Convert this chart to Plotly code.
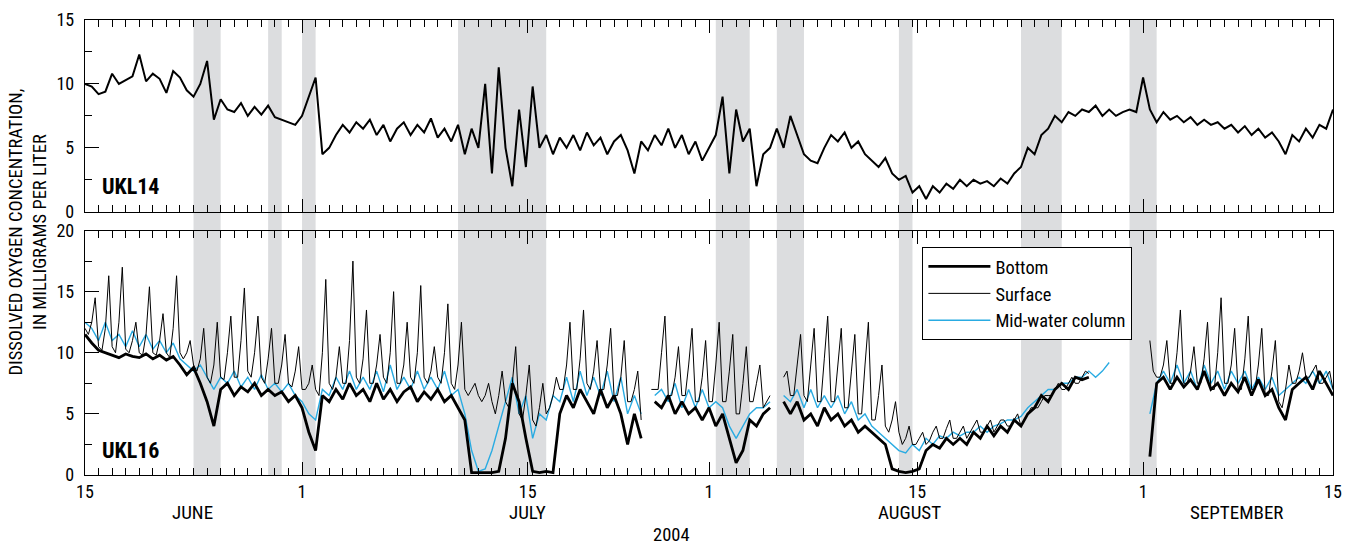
import plotly.graph_objects as go

# ---------------- data (days since 15 June 2004) ----------------
SAMPLE_STEP_DAYS = 0.5      # UKL14, UKL16 bottom and mid-water column
SURFACE_STEP_DAYS = 0.25    # UKL16 surface (diurnal peaks)

ukl14 = [
    10, 9.8, 9.2, 9.4, 10.8, 10.0, 10.3, 10.6, 12.3, 10.2,
    10.8, 10.4, 9.3, 11.0, 10.5, 9.5, 9.0, 10.0, 11.8, 7.2,
    8.8, 8.0, 7.8, 8.5, 7.5, 8.2, 7.6, 8.3, 7.4, 7.2,
    7.0, 6.8, 7.5, 9.0, 10.5, 4.5, 5.0, 6.0, 6.8, 6.2,
    7.0, 6.5, 7.2, 6.0, 6.8, 5.5, 6.5, 7.0, 6.0, 6.8,
    6.2, 7.3, 5.8, 6.5, 5.5, 6.8, 4.5, 6.5, 5.0, 10.0,
    3.0, 11.3, 5.0, 2.0, 8.0, 3.5, 9.8, 5.0, 6.0, 4.5,
    5.8, 5.0, 6.0, 4.8, 6.2, 5.2, 5.8, 4.5, 5.5, 6.0,
    4.8, 3.0, 5.5, 4.8, 6.0, 5.2, 6.5, 5.0, 6.0, 4.5,
    5.5, 4.0, 5.0, 6.0, 9.0, 3.0, 8.0, 5.5, 6.5, 2.0,
    4.5, 5.0, 6.5, 5.0, 7.5, 6.0, 4.5, 4.0, 3.8, 5.0,
    6.0, 5.5, 6.2, 5.0, 5.5, 4.5, 4.0, 3.5, 4.2, 3.0,
    2.5, 2.8, 1.5, 2.0, 1.0, 2.0, 1.5, 2.2, 1.8, 2.5,
    2.0, 2.5, 2.2, 2.4, 2.0, 2.6, 2.2, 3.0, 3.5, 5.0,
    4.5, 6.0, 6.5, 7.5, 7.0, 7.8, 7.5, 8.0, 7.8, 8.3,
    7.5, 8.0, 7.5, 7.8, 8.0, 7.8, 10.5, 8.0, 7.0, 7.8,
    7.2, 7.5, 7.0, 7.4, 6.8, 7.2, 6.8, 7.0, 6.5, 6.8,
    6.2, 6.7, 6.0, 6.5, 5.8, 6.2, 5.5, 4.5, 6.0, 5.5,
    6.5, 5.8, 6.8, 6.5, 8.0,
]

ukl16_bottom = [
    11.5, 10.8, 10.2, 10.0, 9.8, 9.6, 9.9, 9.7, 9.6, 9.9,
    9.5, 9.8, 9.4, 9.7, 9.0, 8.2, 8.8, 7.5, 6.0, 4.0,
    7.0, 7.5, 6.5, 7.2, 6.8, 7.5, 6.5, 7.0, 6.5, 6.8,
    6.0, 6.5, 5.5, 3.5, 2.0, 6.5, 6.0, 7.0, 6.2, 7.5,
    6.5, 7.0, 6.0, 7.5, 6.2, 7.0, 6.0, 6.8, 7.2, 6.0,
    6.8, 6.2, 7.0, 6.0, 6.5, 5.5, 4.5, 0.2, 0.2, 0.2,
    0.2, 0.3, 3.0, 7.5, 6.0, 3.0, 0.3, 0.2, 0.3, 0.2,
    5.0, 6.5, 5.5, 7.0, 6.0, 5.0, 7.0, 5.5, 6.5, 5.0,
    2.5, 5.0, 3.0, None, 6.0, 5.5, 6.5, 5.0, 6.0, 5.0,
    5.5, 4.5, 5.5, 4.0, 5.0, 3.0, 1.0, 2.0, 4.5, 4.0,
    5.0, 5.5, None, 6.0, 5.0, 6.0, 4.5, 5.0, 4.0, 5.5,
    4.5, 5.0, 4.0, 4.5, 3.5, 4.0, 3.5, 3.0, 2.5, 0.5,
    0.3, 0.2, 0.3, 0.5, 2.0, 2.5, 2.2, 3.0, 2.5, 3.0,
    2.5, 3.5, 3.0, 4.0, 3.2, 4.0, 3.5, 4.5, 4.0, 5.0,
    5.5, 6.5, 6.0, 7.0, 7.5, 7.0, 8.0, 7.8, 8.0, None,
    None, None, None, None, None, None, None, 1.5, 7.5, 8.0,
    7.0, 8.0, 7.2, 7.8, 7.0, 8.5, 7.0, 7.5, 6.5, 7.5,
    6.8, 8.0, 6.5, 7.8, 6.5, 7.0, 5.5, 4.5, 7.0, 7.5,
    8.0, 7.0, 8.5, 7.5, 6.5,
]

ukl16_surface = [
    12.0, 11.5, 12.5, 14.5, 10.5, 10.2, 12.0, 16.3,
    10.5, 10.0, 12.5, 17.0, 10.3, 10.0, 11.0, 12.5,
    10.0, 9.8, 11.5, 15.4, 10.0, 9.8, 11.0, 13.2,
    10.0, 9.6, 12.0, 16.3, 10.0, 9.5, 10.0, 11.0,
    9.0, 8.5, 9.5, 12.0, 8.0, 7.5, 9.0, 12.5,
    8.0, 7.8, 10.0, 13.0, 8.0, 8.0, 11.0, 15.3,
    8.5, 8.0, 10.0, 13.0, 8.0, 7.5, 9.5, 12.0,
    7.5, 7.5, 9.0, 11.5, 7.5, 7.2, 8.5, 10.5,
    7.0, 7.0, 7.5, 9.0, 7.0, 6.5, 10.0, 16.0,
    7.5, 7.0, 8.0, 10.5, 7.5, 7.5, 11.0, 17.5,
    8.0, 7.5, 9.5, 13.5, 7.5, 7.5, 9.0, 11.5,
    8.0, 7.5, 10.0, 15.0, 7.5, 7.5, 9.0, 12.5,
    8.0, 7.5, 10.0, 15.5, 8.0, 7.5, 8.5, 10.5,
    8.0, 7.5, 10.0, 14.0, 7.5, 7.0, 9.0, 12.5,
    7.0, 6.5, 7.0, 7.5, 6.5, 6.0, 6.5, 7.5,
    6.0, 5.0, 6.5, 8.5, 6.0, 5.5, 7.5, 10.5,
    5.0, 4.5, 6.5, 9.0, 4.5, 4.0, 5.5, 7.5,
    5.0, 5.5, 6.5, 8.0, 7.0, 7.0, 9.0, 12.5,
    7.0, 7.0, 9.5, 13.5, 7.5, 7.0, 8.5, 11.0,
    7.0, 7.0, 9.0, 12.0, 6.5, 6.5, 8.0, 11.0,
    6.0, 6.0, 7.0, 8.5, 4.5, None, None, 7.0,
    7.0, 7.0, 10.0, 13.0, 6.5, 6.5, 8.0, 10.5,
    6.5, 6.5, 9.0, 12.0, 6.0, 6.0, 8.0, 11.0,
    6.0, 6.0, 9.0, 12.5, 6.0, 6.0, 8.5, 11.5,
    5.0, 5.0, 7.5, 10.5, 6.0, 6.0, 7.5, 9.0,
    5.5, 6.0, 6.5, None, None, None, 8.0, 8.5,
    6.5, 6.5, 9.0, 11.5, 6.5, 6.0, 9.0, 12.0,
    6.0, 6.0, 9.5, 13.0, 6.0, 6.0, 9.0, 12.0,
    5.5, 5.5, 8.5, 11.5, 5.0, 5.0, 9.0, 12.5,
    4.5, 4.5, 6.5, 9.0, 4.0, 3.5, 4.5, 6.0,
    3.5, 2.5, 3.0, 4.0, 2.5, 2.5, 3.0, 3.5,
    2.5, 2.8, 3.5, 4.0, 3.0, 3.0, 3.8, 4.5,
    3.0, 3.0, 3.5, 4.0, 3.0, 3.5, 4.0, 4.5,
    3.5, 3.5, 4.0, 4.5, 3.5, 4.0, 4.5, 4.5,
    4.0, 4.0, 4.5, 5.0, 4.0, 4.5, 5.0, 5.5,
    5.5, 5.5, 6.0, 6.5, 6.5, 6.5, 7.0, 7.5,
    7.0, 7.0, 7.5, 8.0, 7.5, 7.5, 8.0, 8.5,
    8.3, None, None, None, None, None, None, None,
    None, None, None, None, None, None, None, None,
    None, None, 11.0, 8.5, 8.0, 8.0, 9.0, 11.0,
    7.5, 7.5, 10.0, 13.5, 7.5, 7.5, 8.5, 10.5,
    7.5, 7.5, 9.5, 12.5, 7.0, 7.0, 10.0, 14.5,
    7.5, 7.5, 9.0, 12.0, 7.0, 7.0, 9.5, 13.0,
    7.0, 7.0, 9.0, 12.0, 6.5, 6.5, 8.5, 11.0,
    6.0, 5.5, 7.0, 9.0, 7.5, 7.5, 8.5, 10.0,
    8.0, 8.0, 8.5, 9.0, 7.5, 7.5, 8.0, 8.5,
    7.0,
]

ukl16_mid = [
    12.5, 12.0, 11.0, 12.5, 11.0, 11.5, 10.5, 11.8, 10.5, 11.5,
    10.3, 11.0, 10.0, 10.8, 9.5, 9.0, 8.5, 9.0, 8.0, 7.0,
    8.0, 7.5, 8.5, 7.2, 8.0, 7.0, 8.2, 7.0, 7.5, 6.8,
    7.5, 6.5, 6.0, 5.0, 4.5, 7.0, 6.5, 8.0, 7.0, 8.5,
    7.0, 8.0, 7.0, 8.5, 6.8, 9.0, 7.0, 8.0, 7.0, 8.5,
    7.0, 8.0, 7.0, 8.5, 6.5, 7.0, 5.0, 2.0, 0.3, 0.5,
    2.0, 4.0, 6.0, 8.0, 5.0, 6.5, 3.0, 5.0, 4.5, 6.5,
    6.0, 8.0, 6.0, 8.5, 6.5, 8.0, 6.5, 8.5, 6.0, 8.0,
    5.0, 6.5, 5.0, None, 6.5, 7.0, 6.0, 7.5, 5.5, 7.0,
    5.5, 7.0, 5.5, 6.0, 5.5, 4.0, 3.0, 4.0, 5.0, 5.5,
    5.5, 6.0, None, 6.5, 6.0, 7.0, 5.5, 7.0, 5.5, 6.5,
    5.5, 6.5, 5.0, 6.0, 4.5, 5.0, 4.0, 3.5, 3.0, 2.5,
    2.0, 1.8, 2.5, 2.0, 3.0, 2.5, 3.2, 3.0, 3.5, 3.2,
    3.5, 3.5, 4.0, 3.5, 4.0, 4.2, 4.5, 4.5, 4.8, 5.5,
    6.0, 6.5, 7.0, 7.0, 7.5, 7.5, 8.0, 8.0, 8.5, 8.0,
    8.5, 9.2, None, None, None, None, None, 5.0, 7.5, 8.5,
    7.5, 9.0, 7.5, 8.5, 7.0, 9.0, 7.5, 8.5, 7.0, 8.5,
    7.5, 8.5, 7.0, 8.0, 7.0, 8.0, 6.5, 7.0, 7.5, 8.0,
    7.5, 8.5, 7.5, 8.5, 7.0,
]

# shaded periods (start day, end day)
shade_start = [8.0, 13.5, 16.0, 27.5, 46.5, 51.0, 60.0, 69.0, 77.0]
shade_end = [10.0, 14.5, 17.0, 34.0, 49.0, 53.0, 61.0, 72.0, 79.0]

# x tick labels (positions in days, as drawn on the reference axis)
tick_pos = [0, 16, 32.63, 46, 61.35, 78, 92]
tick_text = ["15", "1", "15", "1", "15", "1", "15"]
month_pos = [7.9, 32.65, 60.76, 84.9]
month_text = ["JUNE", "JULY", "AUGUST", "SEPTEMBER"]

days = [i * SAMPLE_STEP_DAYS for i in range(len(ukl14))]
surface_days = [i * SURFACE_STEP_DAYS for i in range(len(ukl16_surface))]

FONT = "Liberation Sans Narrow, Arial Narrow, Roboto Condensed, DejaVu Sans Condensed, sans-serif"
CYAN = "#29ABE2"

fig = go.Figure()

fig.add_trace(go.Scatter(x=days, y=ukl14, mode="lines", line=dict(color="black", width=2),
                         showlegend=False, xaxis="x", yaxis="y"))
fig.add_trace(go.Scatter(x=days, y=ukl16_mid, mode="lines", name="Mid-water column",
                         line=dict(color=CYAN, width=1.4), legendrank=3, xaxis="x2", yaxis="y2"))
fig.add_trace(go.Scatter(x=surface_days, y=ukl16_surface, mode="lines", name="Surface",
                         line=dict(color="black", width=1), legendrank=2, xaxis="x2", yaxis="y2"))
fig.add_trace(go.Scatter(x=days, y=ukl16_bottom, mode="lines", name="Bottom",
                         line=dict(color="black", width=2.8), legendrank=1, xaxis="x2", yaxis="y2"))

shapes = []
for s, e in zip(shade_start, shade_end):
    shapes.append(dict(type="rect", xref="x", yref="paper", x0=s, x1=e, y0=0, y1=1,
                       fillcolor="#DCDDDF", line=dict(width=0), layer="below"))

xcommon = dict(range=[0, 92], tickmode="array", tickvals=tick_pos, ticktext=tick_text,
               ticks="inside", ticklen=13, tickwidth=1, tickcolor="black",
               showline=True, linecolor="black", linewidth=1.3, mirror="ticks",
               showgrid=False, zeroline=False, ticklabelstandoff=0,
               minor=dict(dtick=1, tick0=0, ticks="inside", ticklen=7, tickcolor="black",
                          tickwidth=1, showgrid=False),
               tickfont=dict(family=FONT, size=18, color="black"))

ycommon = dict(ticks="inside", ticklen=14, tickwidth=1, tickcolor="black",
               showline=True, linecolor="black", linewidth=1.3, mirror=True,
               showgrid=False, zeroline=False, ticklabelstandoff=6,
               tickfont=dict(family=FONT, size=18, color="black"))

fig.update_layout(
    width=1351, height=546,
    margin=dict(l=85, r=9, t=14, b=71),
    paper_bgcolor="white", plot_bgcolor="rgba(0,0,0,0)",
    font=dict(family=FONT, size=18, color="black"),
    xaxis=dict(xcommon, anchor="y", domain=[0, 1], showticklabels=False, matches="x2"),
    xaxis2=dict(xcommon, anchor="y2", domain=[0, 1], showticklabels=True),
    yaxis=dict(ycommon, domain=[0.5785, 1], range=[0, 15], tickmode="array",
               tickvals=[0, 5, 10, 15],
               minor=dict(tickmode="array", tickvals=[2.5, 7.5, 12.5], ticks="inside",
                          ticklen=7, tickcolor="black", showgrid=False)),
    yaxis2=dict(ycommon, domain=[0, 0.5373], range=[0, 20], tickmode="array",
                tickvals=[0, 5, 10, 15, 20],
                minor=dict(tickmode="array", tickvals=[2.5, 7.5, 12.5, 17.5], ticks="inside",
                           ticklen=7, tickcolor="black", showgrid=False)),
    shapes=shapes,
    legend=dict(x=0.671, y=0.5011, xanchor="left", yanchor="top",
                bordercolor="black", borderwidth=1, bgcolor="white", itemwidth=62,
                font=dict(family=FONT, size=18.4, color="black"), tracegroupgap=0),
    showlegend=True,
)

annotations = [
    dict(text="<b>UKL14</b>", xref="paper", yref="paper", x=0.012, y=0.6334,
         xanchor="left", yanchor="middle", showarrow=False, font=dict(size=22)),
    dict(text="<b>UKL16</b>", xref="paper", yref="paper", x=0.012, y=0.0542,
         xanchor="left", yanchor="middle", showarrow=False, font=dict(size=22)),
    dict(text="DISSOLVED OXYGEN CONCENTRATION,<br>IN MILLIGRAMS PER LITER", textangle=-90,
         xref="paper", yref="paper", x=-0.0454, y=0.5336, xanchor="center", yanchor="middle",
         showarrow=False, font=dict(size=18.5)),
    dict(text="2004", xref="x2", yref="paper", x=43.27, y=-0.1323, xanchor="center",
         yanchor="middle", showarrow=False, font=dict(size=18.5)),
]
for p, t in zip(month_pos, month_text):
    annotations.append(dict(text=t, xref="x2", yref="paper", x=p, y=-0.0835, xanchor="center",
                            yanchor="middle", showarrow=False, font=dict(size=19)))
fig.update_layout(annotations=annotations)

fig.write_html("out.html")
